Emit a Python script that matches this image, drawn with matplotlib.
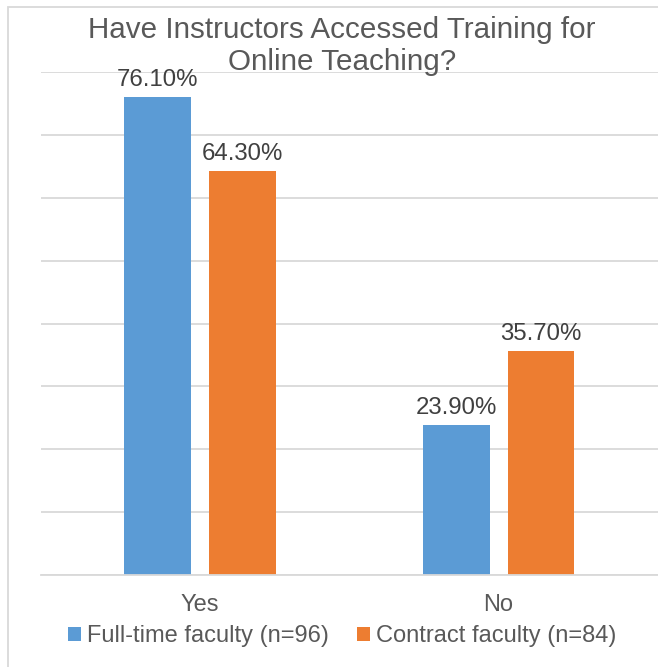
import matplotlib
matplotlib.use("Agg")
import matplotlib.pyplot as plt
from matplotlib.patches import Patch, Rectangle

plt.rcParams['font.family'] = ['Liberation Sans', 'DejaVu Sans']

categories = ["Yes", "No"]
fulltime = [76.1, 23.9]
contract = [64.3, 35.7]
series_names = ["Full-time faculty (n=96)", "Contract faculty (n=84)"]
title_lines = ["Have Instructors Accessed Training for", "Online Teaching?"]

BLUE = "#5B9BD5"
ORANGE = "#ED7D31"
TXT = "#595959"
GRID = "#D9D9D9"

W, H = 658, 667
fig = plt.figure(figsize=(W / 100, H / 100), dpi=100)
fig.patch.set_facecolor("white")

# outer chart border (left/top visible)
fig.add_artist(Rectangle((8 / W, -0.1), 1.2, (1 - 6.5 / H) + 0.1, transform=fig.transFigure,
                         fill=False, edgecolor=GRID, linewidth=1.3))

ax_l, ax_r, ax_t, ax_b = 41, 658, 72, 575
ax = fig.add_axes([ax_l / W, 1 - ax_b / H, (ax_r - ax_l) / W, (ax_b - ax_t) / H])
ax.set_xlim(-0.533, 1.534)
ax.set_ylim(0, 80)

x = list(range(len(categories)))
bw = 0.224
off = 0.142
b1 = ax.bar([i - off for i in x], fulltime, bw, color=BLUE, zorder=3)
b2 = ax.bar([i + off for i in x], contract, bw, color=ORANGE, zorder=3)

for bars, vals in ((b1, fulltime), (b2, contract)):
    for r, v in zip(bars, vals):
        ax.annotate(f"{v:.2f}%", (r.get_x() + r.get_width() / 2, v), xytext=(0, 4),
                    textcoords="offset points", ha="center", va="bottom",
                    fontsize=17.3, color="#404040", zorder=4)

ax.set_yticks(range(0, 81, 10))
ax.yaxis.grid(True, color=GRID, linewidth=1.3, zorder=0)
ax.tick_params(axis="y", length=0, labelleft=False)
ax.set_xticks(x)
ax.set_xticklabels(categories, fontsize=17, color=TXT)
ax.tick_params(axis="x", length=0, pad=14)
for s in ("top", "right", "left"):
    ax.spines[s].set_visible(False)
ax.spines["bottom"].set_color(GRID)
ax.spines["bottom"].set_linewidth(1.3)
ax.spines["bottom"].set_zorder(5)

for line, base in zip(title_lines, (38, 70)):
    fig.text(342 / W, 1 - base / H, line, ha="center", va="baseline", fontsize=21.3,
             color=TXT)

handles = [Patch(facecolor=BLUE), Patch(facecolor=ORANGE)]
fig.legend(handles, series_names, loc="center", bbox_to_anchor=(342 / W, 1 - 636 / H),
           ncol=2, frameon=False, fontsize=17, labelcolor=TXT, handlelength=0.55,
           handleheight=0.55, handletextpad=0.25, columnspacing=1.2)

fig.savefig("out.png", dpi=100, facecolor="white")
